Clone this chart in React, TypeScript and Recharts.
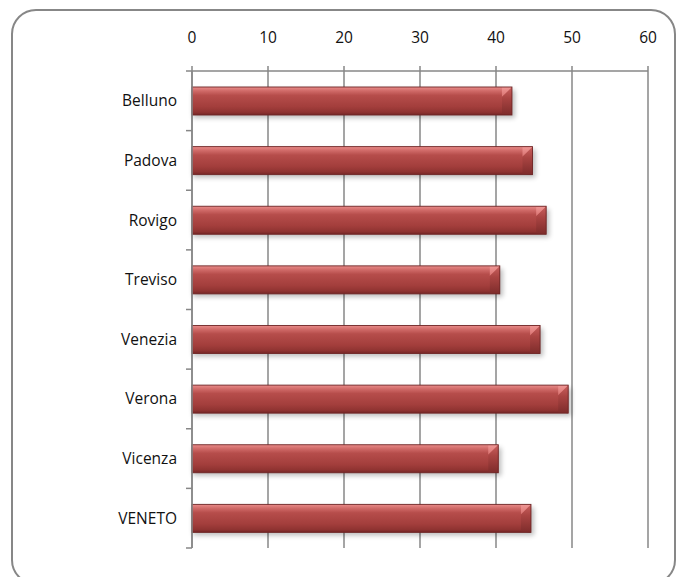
import React from "react";
import { BarChart, Bar, XAxis, YAxis, CartesianGrid } from "recharts";

const provinces = ["Belluno", "Padova", "Rovigo", "Treviso", "Venezia", "Verona", "Vicenza", "VENETO"];
const values = [42.1, 44.8, 46.6, 40.5, 45.8, 49.5, 40.3, 44.6];
const xTicks = [0, 10, 20, 30, 40, 50, 60];

const data = provinces.map((name, i) => ({ name, value: values[i] }));

const W = 684;
const H = 577;
const MARGIN = { top: 41, right: 36, bottom: 29, left: 92 };
const X_AXIS_H = 30;
const Y_AXIS_W = 100;
const PLOT_H = H - MARGIN.top - X_AXIS_H - MARGIN.bottom;
const BAND = PLOT_H / provinces.length;

const AXIS = "#878787";
const FONT = "'Open Sans', 'Noto Sans', sans-serif";

const CategoryTick = (props: any) => {
  const { x, y, payload, index } = props;
  const half = BAND / 2;
  return (
    <g>
      <line x1={x - 6} x2={x} y1={y + half} y2={y + half} stroke={AXIS} strokeWidth={1.5} />
      {index === 0 && <line x1={x - 6} x2={x} y1={y - half} y2={y - half} stroke={AXIS} strokeWidth={1.5} />}
      <text x={x - 15} y={y} dy={5.5} textAnchor="end" fontFamily={FONT} fontSize={15.5} fill="#111">
        {payload.value}
      </text>
    </g>
  );
};

// Bar with a soft drop shadow, a vertical sheen and a chamfered right end
const BevelBar = (props: any) => {
  const { x, y, width, height } = props;
  if (!width || width <= 0) return null;
  const b = Math.min(10, height * 0.36, width / 2);
  const r = x + width;
  const bot = y + height;
  return (
    <g>
      <rect x={x + 1} y={y + 3} width={width + 2} height={height} fill="#000" opacity={0.26} filter="url(#barShadow)" />
      <rect x={x} y={y} width={width} height={height} fill="url(#barBody)" />
      <polygon points={`${r - b},${y} ${r},${y} ${r},${y + 1} ${r - b},${y + b}`} fill="url(#barCorner)" />
      <polygon points={`${r},${y} ${r - b},${y + b} ${r - b},${bot - 1} ${r},${bot}`} fill="url(#barRight)" />
      <rect x={x} y={y} width={width} height={height} fill="none" stroke="#6f2626" strokeWidth={0.9} />
    </g>
  );
};

export default function App() {
  return (
    <div style={{ position: "fixed", left: 0, top: 0, width: W, height: H, overflow: "hidden", background: "#fff" }}>
      <div
        style={{
          position: "absolute",
          left: 11,
          top: 9,
          width: 665,
          height: 576,
          border: `2px solid ${AXIS}`,
          borderRadius: 25,
          boxSizing: "border-box",
        }}
      />
      <div style={{ position: "absolute", left: 0, top: 0 }}>
        <BarChart width={W} height={H} data={data} layout="vertical" margin={MARGIN} barSize={28}>
          <defs>
            <linearGradient id="barBody" x1="0" y1="0" x2="0" y2="1">
              <stop offset="0" stopColor="#e98c8a" />
              <stop offset="0.14" stopColor="#d06a68" />
              <stop offset="0.3" stopColor="#b64d4b" />
              <stop offset="0.7" stopColor="#a33e3c" />
              <stop offset="0.9" stopColor="#8f3331" />
              <stop offset="1" stopColor="#742626" />
            </linearGradient>
            <linearGradient id="barRight" x1="0" y1="0" x2="0" y2="1">
              <stop offset="0" stopColor="#c9605e" />
              <stop offset="0.4" stopColor="#a94442" />
              <stop offset="1" stopColor="#7e2c2b" />
            </linearGradient>
            <linearGradient id="barCorner" x1="0" y1="0" x2="0" y2="1">
              <stop offset="0" stopColor="#f09896" />
              <stop offset="1" stopColor="#d87270" />
            </linearGradient>
            <filter id="barShadow" x="-10%" y="-40%" width="120%" height="200%">
              <feGaussianBlur stdDeviation="2.5" />
            </filter>
          </defs>
          <CartesianGrid horizontal={false} stroke={AXIS} strokeWidth={1.5} />
          <XAxis
            type="number"
            orientation="top"
            domain={[0, 60]}
            ticks={xTicks}
            height={X_AXIS_H}
            tickSize={5}
            tickMargin={23}
            axisLine={{ stroke: AXIS, strokeWidth: 1.5 }}
            tickLine={{ stroke: AXIS, strokeWidth: 1.5 }}
            tick={{ fill: "#111", fontSize: 15.5, fontFamily: FONT }}
            interval={0}
          />
          <YAxis
            type="category"
            dataKey="name"
            width={Y_AXIS_W}
            tickSize={0}
            tickMargin={0}
            tickLine={false}
            axisLine={{ stroke: AXIS, strokeWidth: 1.5 }}
            tick={<CategoryTick />}
            interval={0}
          />
          <Bar dataKey="value" shape={<BevelBar />} isAnimationActive={false} />
        </BarChart>
      </div>
    </div>
  );
}
